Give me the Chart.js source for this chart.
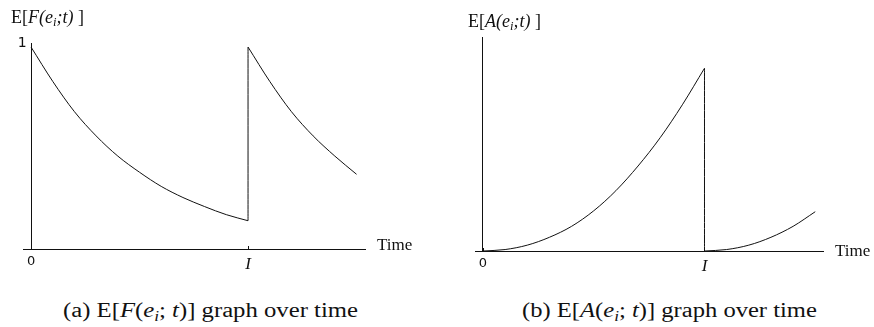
<!DOCTYPE html>
<html>
<head>
<meta charset="utf-8">
<script src="https://cdn.jsdelivr.net/npm/chart.js@4.4.1/dist/chart.umd.min.js"></script>
<style>
  body { margin: 0; background: #fff; }
  #wrap { position: relative; width: 874px; height: 327px; overflow: hidden; }
  canvas { position: absolute; top: 0; }
  .lbl { position: absolute; font-family: "Liberation Serif", serif; color: #111; white-space: nowrap; line-height: 1; }
  .lbl sub { font-size: 70%; vertical-align: -0.25em; line-height: 0; }
  .cap { position: absolute; font-family: "Liberation Serif", serif; font-size: 20px; color: #111; white-space: nowrap; line-height: 1; transform-origin: 0 50%; }
  .cap sub { font-size: 70%; vertical-align: -0.25em; line-height: 0; }
</style>
</head>
<body>
<div id="wrap">
  <canvas id="chartF" width="437" height="290" style="left:0"></canvas>
  <canvas id="chartA" width="437" height="290" style="left:437px"></canvas>

  <div class="lbl" style="left:11px;top:8px;font-size:18px">E[<i>F</i><i>(e<sub>i</sub>;t)</i> ]</div>
  <div class="lbl" style="left:468px;top:12px;font-size:18px">E[<i>A</i><i>(e<sub>i</sub>;t)</i> ]</div>
  <div class="lbl" style="left:377px;top:236px;font-size:17px">Time</div>
  <div class="lbl" style="left:835px;top:242px;font-size:17px">Time</div>

  <div class="cap" id="capA" style="left:63px;top:300px">(a) E[<i>F</i>(<i>e<sub>i</sub></i>; <i>t</i>)] graph over time</div>
  <div class="cap" id="capB" style="left:522px;top:300px">(b) E[<i>A</i>(<i>e<sub>i</sub></i>; <i>t</i>)] graph over time</div>
</div>
<script>
// time in units of the update interval I
const tFirst  = [0, 0.1, 0.2, 0.3, 0.4, 0.5, 0.6, 0.7, 0.8, 0.9, 1.0];
const tSecond = [1.0, 1.1, 1.2, 1.3, 1.4, 1.5];

// (a) expected freshness
const freshFirst  = [1.0, 0.83, 0.68, 0.56, 0.46, 0.38, 0.31, 0.255, 0.21, 0.17, 0.14];
const freshSecond = [1.0, 0.83, 0.68, 0.56, 0.46, 0.37];

// (b) expected age, relative to its value just before I
const ageFirst  = [0, 0.008, 0.032, 0.075, 0.135, 0.22, 0.33, 0.465, 0.62, 0.80, 1.0];
const ageSecond = [0, 0.008, 0.032, 0.075, 0.135, 0.215];

const xTickVals   = [0, 1];
const xTickLabels = ['0', 'I'];
const fTickVals   = [1];
const fTickLabels = ['1'];

const pts = (xs, ys) => xs.map((x, i) => ({ x: x, y: ys[i] }));

function curve(data) {
  return {
    data: data,
    borderColor: '#111',
    borderWidth: 1,
    pointRadius: 0,
    fill: false,
    cubicInterpolationMode: 'monotone'
  };
}

// little inward tick marks on the time axis
const innerTicks = {
  id: 'innerTicks',
  afterDraw(chart) {
    const c = chart.ctx, xs = chart.scales.x, y0 = chart.scales.y.getPixelForValue(0);
    c.save();
    c.strokeStyle = '#111';
    c.lineWidth = 1;
    xTickVals.forEach(v => {
      const px = Math.round(xs.getPixelForValue(v)) + 0.5;
      c.beginPath();
      c.moveTo(px, y0);
      c.lineTo(px, y0 - 3);
      c.stroke();
    });
    c.restore();
  }
};

function makeChart(id, datasets, xMin, xMax, yMax, yTicks, yLabels, pad) {
  return new Chart(document.getElementById(id), {
    type: 'line',
    data: { datasets: datasets },
    plugins: [innerTicks],
    options: {
      responsive: false,
      animation: false,
      devicePixelRatio: 1,
      layout: { padding: pad },
      plugins: { legend: { display: false }, tooltip: { enabled: false } },
      scales: {
        x: {
          type: 'linear',
          min: xMin, max: xMax,
          grid: { display: false, drawTicks: false },
          border: { display: true, color: '#111', width: 1 },
          afterBuildTicks: s => { s.ticks = xTickVals.map(v => ({ value: v })); },
          afterFit: s => { s.height = 30; },
          ticks: {
            padding: 5,
            color: '#111',
            maxRotation: 0,
            autoSkip: false,
            callback: v => xTickLabels[xTickVals.indexOf(v)],
            font: c => (c.tick && c.tick.value === 0)
              ? { family: 'DejaVu Sans', size: 13 }
              : { family: 'Liberation Serif', size: 17, style: 'italic' }
          }
        },
        y: {
          type: 'linear',
          position: { x: 0 },
          min: 0, max: yMax,
          grid: { display: false, drawTicks: false },
          border: { display: true, color: '#111', width: 1 },
          afterBuildTicks: s => { s.ticks = yTicks.map(v => ({ value: v })); },
          ticks: {
            display: yTicks.length > 0,
            labelOffset: -4,
            color: '#111',
            // a trailing space keeps the label clear of the axis line
            callback: v => yLabels[yTicks.indexOf(v)] + ' ',
            font: { family: 'DejaVu Sans', size: 14 }
          }
        }
      }
    }
  });
}

makeChart('chartF', [
  curve(pts(tFirst, freshFirst)),
  curve([{ x: 1, y: freshFirst[freshFirst.length - 1] }, { x: 1, y: freshSecond[0] }]),
  curve(pts(tSecond, freshSecond))
], -0.037, 1.539, 1.02, fTickVals, fTickLabels,
  { left: 23, right: 72, top: 43, bottom: 11 });

makeChart('chartA', [
  curve(pts(tFirst, ageFirst)),
  curve([{ x: 1, y: ageFirst[ageFirst.length - 1] }, { x: 1, y: ageSecond[0] }]),
  curve(pts(tSecond, ageSecond))
], -0.036, 1.535, 1.171, [], [],
  { left: 38, right: 51, top: 37, bottom: 9 });

// stretch captions to the width of the original typeset line
['capA', 'capB'].forEach(id => {
  const el = document.getElementById(id);
  const w = el.getBoundingClientRect().width;
  el.style.transform = 'scaleX(' + (295 / w).toFixed(3) + ')';
});
</script>
</body>
</html>
